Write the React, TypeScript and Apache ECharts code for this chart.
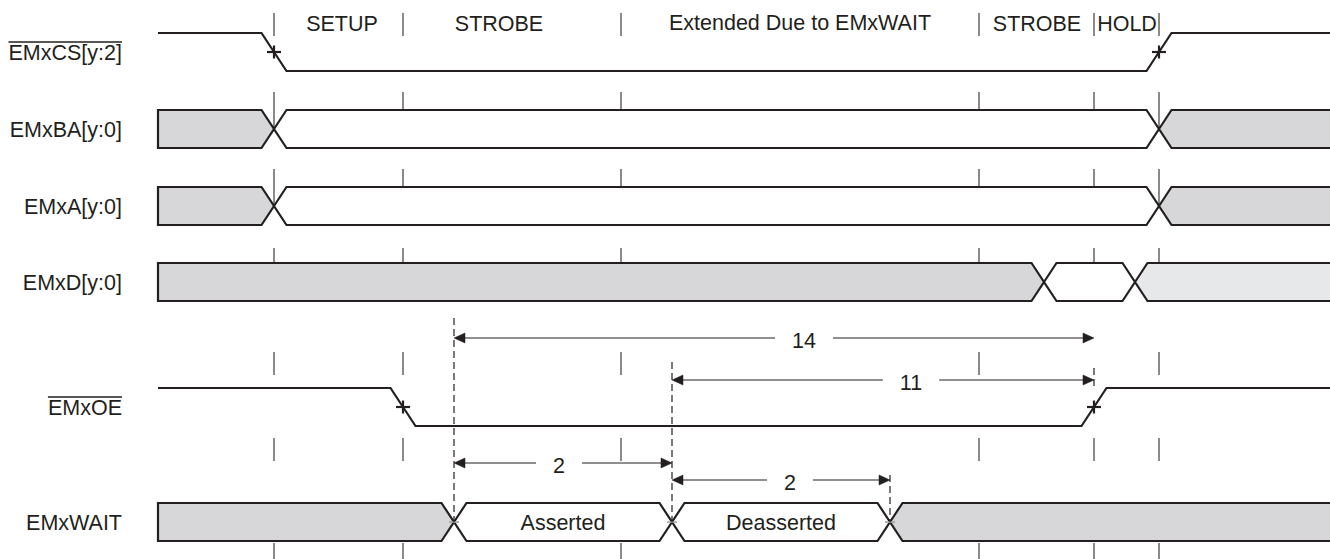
import React, { useEffect, useRef } from 'react';
import * as echarts from 'echarts';

// ---------- style ----------
const FONT_FAMILY = '"Liberation Sans", Arial, Helvetica, sans-serif';
const FONT_SIZE = 21.5;
const INK = '#231f20';
const TICK_INK = '#3d3d3f';
const STATE_FILLS = ['#d7d6d8', '#ffffff', '#e7e8ea']; // invalid, valid, hi-Z

const W = 1330;
const H = 559;

// ---------- data (diagram time units / row levels) ----------
const traceStart = 158;
const traceEnd = 1345;

const phaseBounds = [274, 403, 621, 979, 1094, 1159];
const phaseNames = ['SETUP', 'STROBE', 'Extended Due to EMxWAIT', 'STROBE', 'HOLD'];
const phaseNameT = [342, 499, 800, 1037, 1127];
const phaseNameLevel = [24, 24, 22.5, 24, 24];

const signalNames = ['EMxCS[y:2]', 'EMxBA[y:0]', 'EMxA[y:0]', 'EMxD[y:0]', 'EMxOE', 'EMxWAIT'];
const signalActiveLow = [true, false, false, false, true, false];
const signalRow = [52, 129, 206, 282, 407, 522];

// level (strobe) signals: edge times, starting high
const csEdges = [274, 1159];
const oeEdges = [403, 1094];

// bus signals: crossing times and state of each interval (0 invalid, 1 valid, 2 hi-Z)
const baCrossings = [274, 1159];
const baStates = [0, 1, 0];
const aCrossings = [274, 1159];
const aStates = [0, 1, 0];
const dCrossings = [1044, 1135];
const dStates = [0, 1, 2];
const waitCrossings = [454, 672, 890];
const waitStates = [0, 1, 1, 0];
const waitTexts = ['', 'Asserted', 'Deasserted', ''];

// cycle tick rows
const tickRowTop = [92, 169, 248, 352, 438, 543];
const tickRowBottom = [129, 206, 282, 375, 461, 565];
const tickRowSkip = [[], [], [], [1094], [], []];

// dashed reference lines
const refLineT = [454, 672, 890, 1094];
const refLineTop = [318, 362, 475, 368];
const refLineBottom = [522, 522, 522, 389];

// measured intervals (cycles)
const measureFrom = [454, 672, 454, 672];
const measureTo = [1094, 1094, 672, 890];
const measureLevel = [338, 380, 463, 480];
const measureLabels = ['14', '11', '2', '2'];
const measureLabelT = [804, 911, 559, 790];

// ---------- layout constants ----------
const RAMP = 12.5;
const HALF = 19;
const HEADER_SEP_TOP = 13;
const HEADER_SEP_BOTTOM = 36;
const LABEL_RIGHT = 122;
const OVERLINE_OFFSET = 10;
const ARROW_LEN = 11;
const ARROW_HALF = 5;
const GAP_PAD = 17;

function textWidth(text: string): number {
  const c = document.createElement('canvas');
  const ctx = c.getContext('2d');
  if (!ctx) return text.length * FONT_SIZE * 0.55;
  ctx.font = `${FONT_SIZE}px ${FONT_FAMILY}`;
  return ctx.measureText(text).width;
}

function textStyle(text: string, x: number, y: number, align: string) {
  return {
    text,
    x,
    y,
    fill: INK,
    fontSize: FONT_SIZE,
    fontFamily: FONT_FAMILY,
    align,
    verticalAlign: 'middle',
  };
}

function busData(row: number, crossings: number[], states: number[]) {
  const bounds = [traceStart, ...crossings, traceEnd];
  return states.map((st, i) => [
    bounds[i],
    bounds[i + 1],
    signalRow[row],
    st,
    i === 0 ? 1 : 0,
    i === states.length - 1 ? 1 : 0,
    row,
    i,
  ]);
}

const busTexts: Record<number, string[]> = { 5: waitTexts };
const levelEdges: Record<number, number[]> = { 0: csEdges, 4: oeEdges };

function buildOption() {
  const tickData: number[][] = [];
  tickRowTop.forEach((top, r) => {
    phaseBounds.forEach((t) => {
      if (tickRowSkip[r].indexOf(t) < 0) tickData.push([t, top, tickRowBottom[r]]);
    });
  });
  const headerSepData = phaseBounds.map((t) => [t, HEADER_SEP_TOP, HEADER_SEP_BOTTOM]);

  const busSeriesData = [
    ...busData(1, baCrossings, baStates),
    ...busData(2, aCrossings, aStates),
    ...busData(3, dCrossings, dStates),
    ...busData(5, waitCrossings, waitStates),
  ];

  const waitMarkData = waitCrossings.map((t) => [t, signalRow[5]]);
  const levelData = [[traceStart, signalRow[0], 0], [traceStart, signalRow[4], 4]];
  const refData = refLineT.map((t, i) => [t, refLineTop[i], refLineBottom[i]]);
  const measureData = measureFrom.map((f, i) => [f, measureTo[i], measureLevel[i], measureLabelT[i], i]);
  const labelData = signalNames.map((_, i) => [LABEL_RIGHT, signalRow[i], i]);
  const headerData = phaseNames.map((_, i) => [phaseNameT[i], phaseNameLevel[i], i]);

  const line = (api: any, x1: number, y1: number, x2: number, y2: number, style: any) => {
    const a = api.coord([x1, y1]);
    const b = api.coord([x2, y2]);
    return { type: 'line', shape: { x1: a[0], y1: a[1], x2: b[0], y2: b[1] }, style };
  };

  return {
    animation: false,
    backgroundColor: '#ffffff',
    grid: { left: 0, right: 0, top: 0, bottom: 0, containLabel: false },
    xAxis: { type: 'value', min: 0, max: W, show: false },
    yAxis: { type: 'value', min: 0, max: H, inverse: true, show: false },
    tooltip: { show: false },
    series: [
      {
        name: 'ticks',
        type: 'custom',
        coordinateSystem: 'cartesian2d',
        silent: true,
        z: 1,
        encode: { x: 0, y: [1, 2] },
        data: [...tickData, ...headerSepData],
        renderItem: (_p: any, api: any) =>
          line(api, api.value(0), api.value(1), api.value(0), api.value(2), {
            stroke: TICK_INK,
            lineWidth: 1.2,
          }),
      },
      {
        name: 'buses',
        type: 'custom',
        coordinateSystem: 'cartesian2d',
        silent: true,
        z: 2,
        encode: { x: [0, 1], y: 2 },
        data: busSeriesData,
        renderItem: (_p: any, api: any) => {
          const s = api.value(0);
          const e = api.value(1);
          const yc = api.value(2);
          const st = api.value(3);
          const flatStart = api.value(4) === 1;
          const flatEnd = api.value(5) === 1;
          const row = api.value(6);
          const idx = api.value(7);
          const top = yc - HALF;
          const bot = yc + HALF;
          const pts: number[][] = [];
          if (flatStart) pts.push([s, bot], [s, top]);
          else pts.push([s, yc], [s + RAMP, top]);
          if (flatEnd) pts.push([e, top], [e, bot]);
          else pts.push([e - RAMP, top], [e, yc], [e - RAMP, bot]);
          if (!flatStart) pts.push([s + RAMP, bot]);
          const children: any[] = [
            {
              type: 'polygon',
              shape: { points: pts.map((p) => api.coord(p)) },
              style: { fill: STATE_FILLS[st], stroke: INK, lineWidth: 2.2, lineJoin: 'miter' },
            },
          ];
          const texts = busTexts[row];
          if (texts && texts[idx]) {
            const c = api.coord([(s + e) / 2, yc + 1]);
            children.push({ type: 'text', style: textStyle(texts[idx], c[0], c[1], 'center') });
          }
          return { type: 'group', children };
        },
      },
      {
        name: 'waitMarks',
        type: 'custom',
        coordinateSystem: 'cartesian2d',
        silent: true,
        z: 3,
        encode: { x: 0, y: 1 },
        data: waitMarkData,
        renderItem: (_p: any, api: any) =>
          line(api, api.value(0) - 5, api.value(1), api.value(0) + 5, api.value(1), {
            stroke: '#9d9d9f',
            lineWidth: 1.5,
          }),
      },
      {
        name: 'levels',
        type: 'custom',
        coordinateSystem: 'cartesian2d',
        silent: true,
        z: 2,
        encode: { x: 0, y: 1 },
        data: levelData,
        renderItem: (_p: any, api: any) => {
          const yc = api.value(1);
          const row = api.value(2);
          const edges = levelEdges[row];
          const hi = yc - HALF;
          const lo = yc + HALF;
          let cur = hi;
          const pts: number[][] = [[traceStart, cur]];
          const children: any[] = [];
          edges.forEach((t) => {
            const next = cur === hi ? lo : hi;
            pts.push([t - RAMP, cur], [t + RAMP, next]);
            cur = next;
            children.push(
              line(api, t - 7, yc, t + 7, yc, { stroke: INK, lineWidth: 2.2 }),
              line(api, t, yc - 6.5, t, yc + 6.5, { stroke: INK, lineWidth: 2.2 })
            );
          });
          pts.push([traceEnd, cur]);
          children.unshift({
            type: 'polyline',
            shape: { points: pts.map((p) => api.coord(p)) },
            style: { fill: 'none', stroke: INK, lineWidth: 2.2, lineJoin: 'miter' },
          });
          return { type: 'group', children };
        },
      },
      {
        name: 'refs',
        type: 'custom',
        coordinateSystem: 'cartesian2d',
        silent: true,
        z: 4,
        encode: { x: 0, y: [1, 2] },
        data: refData,
        renderItem: (_p: any, api: any) =>
          line(api, api.value(0), api.value(1), api.value(0), api.value(2), {
            stroke: INK,
            lineWidth: 1.2,
            lineDash: [7, 4],
          }),
      },
      {
        name: 'measures',
        type: 'custom',
        coordinateSystem: 'cartesian2d',
        silent: true,
        z: 4,
        encode: { x: [0, 1], y: 2 },
        data: measureData,
        renderItem: (_p: any, api: any) => {
          const f = api.value(0);
          const t = api.value(1);
          const y = api.value(2);
          const lt = api.value(3);
          const i = api.value(4);
          const label = measureLabels[i];
          const gap = textWidth(label) / 2 + GAP_PAD;
          const st = { stroke: INK, lineWidth: 1 };
          const head = (tip: number, dir: number) => ({
            type: 'polygon',
            shape: {
              points: [
                api.coord([tip, y]),
                api.coord([tip - dir * ARROW_LEN, y - ARROW_HALF]),
                api.coord([tip - dir * ARROW_LEN, y + ARROW_HALF]),
              ],
            },
            style: { fill: INK, stroke: INK, lineWidth: 0.5 },
          });
          const c = api.coord([lt, y + 3]);
          return {
            type: 'group',
            children: [
              line(api, f + 2, y, lt - gap, y, st),
              line(api, lt + gap, y, t - 2, y, st),
              head(f, -1),
              head(t, 1),
              { type: 'text', style: textStyle(label, c[0], c[1], 'center') },
            ],
          };
        },
      },
      {
        name: 'signalLabels',
        type: 'custom',
        coordinateSystem: 'cartesian2d',
        silent: true,
        z: 5,
        encode: { x: 0, y: 1 },
        data: labelData,
        renderItem: (_p: any, api: any) => {
          const x = api.value(0);
          const y = api.value(1);
          const i = api.value(2);
          const name = signalNames[i];
          const c = api.coord([x, y + 1]);
          const children: any[] = [{ type: 'text', style: textStyle(name, c[0], c[1], 'right') }];
          if (signalActiveLow[i]) {
            const w = textWidth(name);
            children.push(
              line(api, x - w, y - OVERLINE_OFFSET, x, y - OVERLINE_OFFSET, { stroke: INK, lineWidth: 1.3 })
            );
          }
          return { type: 'group', children };
        },
      },
      {
        name: 'phaseLabels',
        type: 'custom',
        coordinateSystem: 'cartesian2d',
        silent: true,
        z: 5,
        encode: { x: 0, y: 1 },
        data: headerData,
        renderItem: (_p: any, api: any) => {
          const c = api.coord([api.value(0), api.value(1)]);
          const i = api.value(2);
          return { type: 'text', style: textStyle(phaseNames[i], c[0], c[1], 'center') };
        },
      },
    ],
  };
}

export default function App() {
  const ref = useRef<HTMLDivElement>(null);
  useEffect(() => {
    document.body.style.margin = '0';
    if (!ref.current) return;
    const chart = echarts.init(ref.current, null, { renderer: 'svg' });
    chart.setOption(buildOption() as any);
    return () => chart.dispose();
  }, []);
  return <div ref={ref} style={{ width: W, height: H, background: '#ffffff' }} />;
}
